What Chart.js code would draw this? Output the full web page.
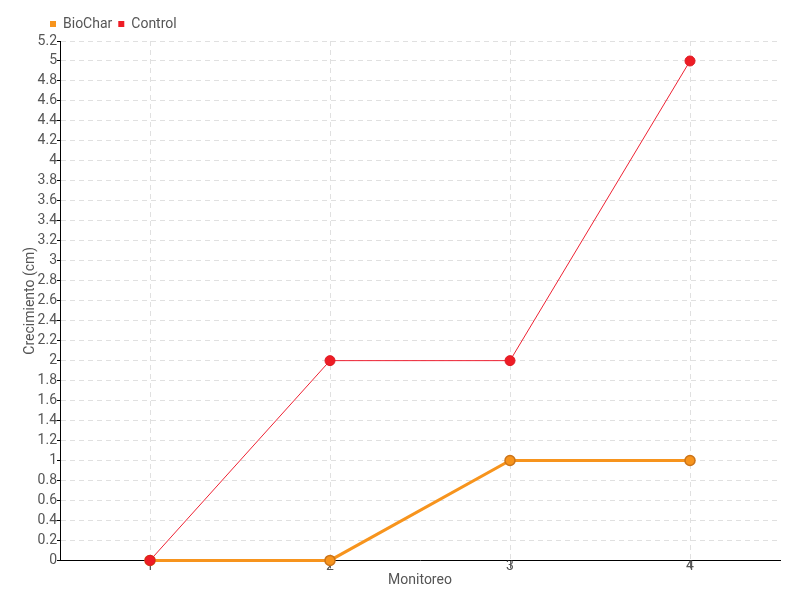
<!DOCTYPE html>
<html>
<head>
<meta charset="utf-8">
<script src="https://cdn.jsdelivr.net/npm/chart.js@4"></script>
<style>
  body { margin: 0; background: #fff; }
  #wrap { width: 800px; height: 600px; }
</style>
</head>
<body>
<div id="wrap"><canvas id="growthChart"></canvas></div>
<script>
// data
var monitoreo = ['1', '2', '3', '4'];
var biochar = [0, 0, 1, 1];
var control = [0, 2, 2, 5];

var textGray = '#555';
var gridGray = '#e0e0e0';

Chart.defaults.font.family = "Roboto, sans-serif";
Chart.defaults.font.size = 14;
Chart.defaults.color = textGray;

var ctx = document.getElementById('growthChart').getContext('2d');
var growthChart = new Chart(ctx, {
    type: 'line',
    data: {
        labels: monitoreo,
        datasets: [{
            // control first so it is painted on top
            label: 'Control',
            data: control,
            borderColor: '#ee2233',
            backgroundColor: '#ee1c25',
            borderWidth: 1,
            pointRadius: 5,
            pointBorderWidth: 1,
            pointBackgroundColor: '#ee1c25',
            pointBorderColor: '#dd1a22',
            tension: 0,
            clip: false
        }, {
            label: 'BioChar',
            data: biochar,
            borderColor: '#f7941d',
            backgroundColor: '#f7941d',
            borderWidth: 3,
            pointRadius: 5,
            pointBorderWidth: 1.5,
            pointBackgroundColor: '#f7941d',
            pointBorderColor: '#cc7418',
            tension: 0,
            clip: false
        }]
    },
    options: {
        responsive: true,
        maintainAspectRatio: false,
        animation: false,
        layout: { padding: { left: 22, right: 20, top: 11, bottom: 11 } },
        plugins: {
            tooltip: { enabled: false },
            legend: {
                position: 'top',
                align: 'start',
                reverse: true,
                labels: {
                    boxWidth: 6,
                    boxHeight: 6,
                    padding: 6,
                    color: textGray,
                    generateLabels: function (chart) {
                        var items = Chart.defaults.plugins.legend.labels.generateLabels(chart);
                        items.forEach(function (it) { it.lineWidth = 0; it.strokeStyle = 'transparent'; });
                        return items;
                    }
                }
            }
        },
        scales: {
            x: {
                offset: true,
                grid: {
                    offset: false,
                    color: gridGray,
                    tickColor: '#666',
                    tickLength: 8,
                    tickBorderDash: []
                },
                border: { color: '#000', width: 1, dash: [5, 4] },
                ticks: { padding: -10, color: textGray },
                title: { display: true, text: 'Monitoreo', color: textGray, padding: { top: 7, bottom: 0 } }
            },
            y: {
                min: 0,
                max: 5.2,
                afterFit: function (scale) { scale.width = 38; },
                grid: {
                    color: gridGray,
                    tickColor: '#000',
                    tickLength: 3,
                    tickBorderDash: []
                },
                border: { color: '#000', width: 1, dash: [5, 4] },
                ticks: {
                    stepSize: 0.2,
                    autoSkip: false,
                    padding: 0,
                    color: textGray,
                    callback: function (v) { return String(+v.toFixed(1)); }
                },
                title: { display: true, text: 'Crecimiento (cm)', color: textGray, padding: 0 }
            }
        }
    },
    plugins: [{
        // legend in the reference starts a bit right of the page edge
        id: 'legendShift',
        afterLayout: function (chart) {
            chart.legend.left = 44;
        }
    }]
});
</script>
</body>
</html>
